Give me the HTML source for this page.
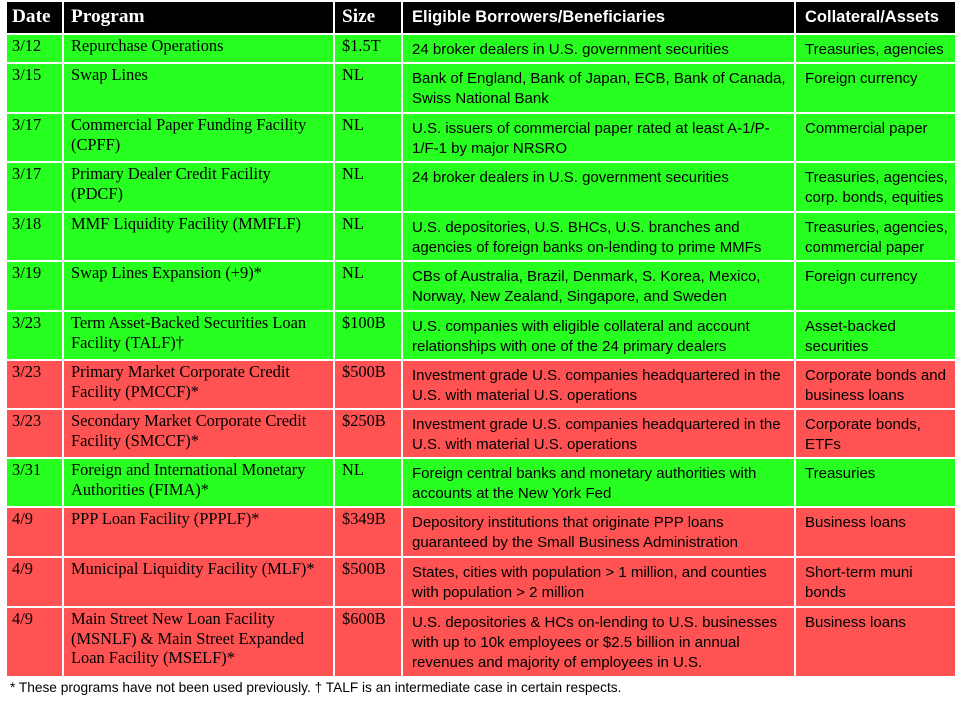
<!DOCTYPE html>
<html><head><meta charset="utf-8">
<style>
html,body{margin:0;padding:0;background:#fff;}
body{width:958px;height:704px;position:relative;overflow:hidden;}
.c{position:absolute;box-sizing:border-box;white-space:nowrap;color:#000;}
.s{font-family:"Liberation Serif",serif;font-size:16.4px;line-height:19.6px;padding-top:1px;}
.n{font-family:"Liberation Sans",sans-serif;font-size:15px;line-height:20px;padding-top:5px;}
.g{background:#27ff20;}
.r{background:#ff5252;}
.h{background:#000;color:#fff;font-weight:bold;}
.hs{font-family:"Liberation Serif",serif;font-size:19.3px;line-height:30px;}
.hn{font-family:"Liberation Sans",sans-serif;font-size:16.5px;line-height:30px;}
.c1{left:7px;width:55px;padding-left:5px;}
.c2{left:64px;width:269px;padding-left:7px;}
.c3{left:335px;width:66px;padding-left:7px;}
.c4{left:403px;width:391px;padding-left:9px;}
.c5{left:796px;width:159px;padding-left:9px;}
.foot{position:absolute;left:10px;top:679px;font-family:"Liberation Sans",sans-serif;font-size:13.7px;line-height:18px;color:#000;white-space:nowrap;}
</style></head><body>

<div class="c h hs c1" style="top:2px;height:31px;">Date</div>
<div class="c h hs c2" style="top:2px;height:31px;">Program</div>
<div class="c h hs c3" style="top:2px;height:31px;">Size</div>
<div class="c h hn c4" style="top:2px;height:31px;">Eligible Borrowers/Beneficiaries</div>
<div class="c h hn c5" style="top:2px;height:31px;">Collateral/Assets</div>

<!-- r1 -->
<div class="c g s c1" style="top:35px;height:27px;">3/12</div>
<div class="c g s c2" style="top:35px;height:27px;">Repurchase Operations</div>
<div class="c g s c3" style="top:35px;height:27px;">$1.5T</div>
<div class="c g n c4" style="top:35px;height:27px;">24 broker dealers in U.S. government securities</div>
<div class="c g n c5" style="top:35px;height:27px;">Treasuries, agencies</div>

<!-- r2 -->
<div class="c g s c1" style="top:64px;height:48px;">3/15</div>
<div class="c g s c2" style="top:64px;height:48px;">Swap Lines</div>
<div class="c g s c3" style="top:64px;height:48px;">NL</div>
<div class="c g n c4" style="top:64px;height:48px;">Bank of England, Bank of Japan, ECB, Bank of Canada,<br>Swiss National Bank</div>
<div class="c g n c5" style="top:64px;height:48px;">Foreign currency</div>

<!-- r3 -->
<div class="c g s c1" style="top:114px;height:47px;">3/17</div>
<div class="c g s c2" style="top:114px;height:47px;">Commercial Paper Funding Facility<br>(CPFF)</div>
<div class="c g s c3" style="top:114px;height:47px;">NL</div>
<div class="c g n c4" style="top:114px;height:47px;">U.S. issuers of commercial paper rated at least A-1/P-<br>1/F-1 by major NRSRO</div>
<div class="c g n c5" style="top:114px;height:47px;">Commercial paper</div>

<!-- r4 -->
<div class="c g s c1" style="top:163px;height:48px;">3/17</div>
<div class="c g s c2" style="top:163px;height:48px;">Primary Dealer Credit Facility<br>(PDCF)</div>
<div class="c g s c3" style="top:163px;height:48px;">NL</div>
<div class="c g n c4" style="top:163px;height:48px;">24 broker dealers in U.S. government securities</div>
<div class="c g n c5" style="top:163px;height:48px;">Treasuries, agencies,<br>corp. bonds, equities</div>

<!-- r5 -->
<div class="c g s c1" style="top:213px;height:47px;">3/18</div>
<div class="c g s c2" style="top:213px;height:47px;">MMF Liquidity Facility (MMFLF)</div>
<div class="c g s c3" style="top:213px;height:47px;">NL</div>
<div class="c g n c4" style="top:213px;height:47px;">U.S. depositories, U.S. BHCs, U.S. branches and<br>agencies of foreign banks on-lending to prime MMFs</div>
<div class="c g n c5" style="top:213px;height:47px;">Treasuries, agencies,<br>commercial paper</div>

<!-- r6 -->
<div class="c g s c1" style="top:262px;height:48px;">3/19</div>
<div class="c g s c2" style="top:262px;height:48px;">Swap Lines Expansion (+9)*</div>
<div class="c g s c3" style="top:262px;height:48px;">NL</div>
<div class="c g n c4" style="top:262px;height:48px;">CBs of Australia, Brazil, Denmark, S. Korea, Mexico,<br>Norway, New Zealand, Singapore, and Sweden</div>
<div class="c g n c5" style="top:262px;height:48px;">Foreign currency</div>

<!-- r7 -->
<div class="c g s c1" style="top:312px;height:47px;">3/23</div>
<div class="c g s c2" style="top:312px;height:47px;">Term Asset-Backed Securities Loan<br>Facility (TALF)†</div>
<div class="c g s c3" style="top:312px;height:47px;">$100B</div>
<div class="c g n c4" style="top:312px;height:47px;">U.S. companies with eligible collateral and account<br>relationships with one of the 24 primary dealers</div>
<div class="c g n c5" style="top:312px;height:47px;">Asset-backed<br>securities</div>

<!-- r8 -->
<div class="c r s c1" style="top:361px;height:47px;">3/23</div>
<div class="c r s c2" style="top:361px;height:47px;">Primary Market Corporate Credit<br>Facility (PMCCF)*</div>
<div class="c r s c3" style="top:361px;height:47px;">$500B</div>
<div class="c r n c4" style="top:361px;height:47px;">Investment grade U.S. companies headquartered in the<br>U.S. with material U.S. operations</div>
<div class="c r n c5" style="top:361px;height:47px;">Corporate bonds and<br>business loans</div>

<!-- r9 -->
<div class="c r s c1" style="top:410px;height:47px;">3/23</div>
<div class="c r s c2" style="top:410px;height:47px;">Secondary Market Corporate Credit<br>Facility (SMCCF)*</div>
<div class="c r s c3" style="top:410px;height:47px;">$250B</div>
<div class="c r n c4" style="top:410px;height:47px;">Investment grade U.S. companies headquartered in the<br>U.S. with material U.S. operations</div>
<div class="c r n c5" style="top:410px;height:47px;">Corporate bonds,<br>ETFs</div>

<!-- r10 -->
<div class="c g s c1" style="top:459px;height:47px;">3/31</div>
<div class="c g s c2" style="top:459px;height:47px;">Foreign and International Monetary<br>Authorities (FIMA)*</div>
<div class="c g s c3" style="top:459px;height:47px;">NL</div>
<div class="c g n c4" style="top:459px;height:47px;">Foreign central banks and monetary authorities with<br>accounts at the New York Fed</div>
<div class="c g n c5" style="top:459px;height:47px;">Treasuries</div>

<!-- r11 -->
<div class="c r s c1" style="top:508px;height:48px;">4/9</div>
<div class="c r s c2" style="top:508px;height:48px;">PPP Loan Facility (PPPLF)*</div>
<div class="c r s c3" style="top:508px;height:48px;">$349B</div>
<div class="c r n c4" style="top:508px;height:48px;">Depository institutions that originate PPP loans<br>guaranteed by the Small Business Administration</div>
<div class="c r n c5" style="top:508px;height:48px;">Business loans</div>

<!-- r12 -->
<div class="c r s c1" style="top:558px;height:48px;">4/9</div>
<div class="c r s c2" style="top:558px;height:48px;">Municipal Liquidity Facility (MLF)*</div>
<div class="c r s c3" style="top:558px;height:48px;">$500B</div>
<div class="c r n c4" style="top:558px;height:48px;">States, cities with population &gt; 1 million, and counties<br>with population &gt; 2 million</div>
<div class="c r n c5" style="top:558px;height:48px;">Short-term muni<br>bonds</div>

<!-- r13 -->
<div class="c r s c1" style="top:608px;height:68px;">4/9</div>
<div class="c r s c2" style="top:608px;height:68px;">Main Street New Loan Facility<br>(MSNLF) &amp; Main Street Expanded<br>Loan Facility (MSELF)*</div>
<div class="c r s c3" style="top:608px;height:68px;">$600B</div>
<div class="c r n c4" style="top:608px;height:68px;">U.S. depositories &amp; HCs on-lending to U.S. businesses<br>with up to 10k employees or $2.5 billion in annual<br>revenues and majority of employees in U.S.</div>
<div class="c r n c5" style="top:608px;height:68px;">Business loans</div>

<div class="foot">* These programs have not been used previously. † TALF is an intermediate case in certain respects.</div>

</body></html>
